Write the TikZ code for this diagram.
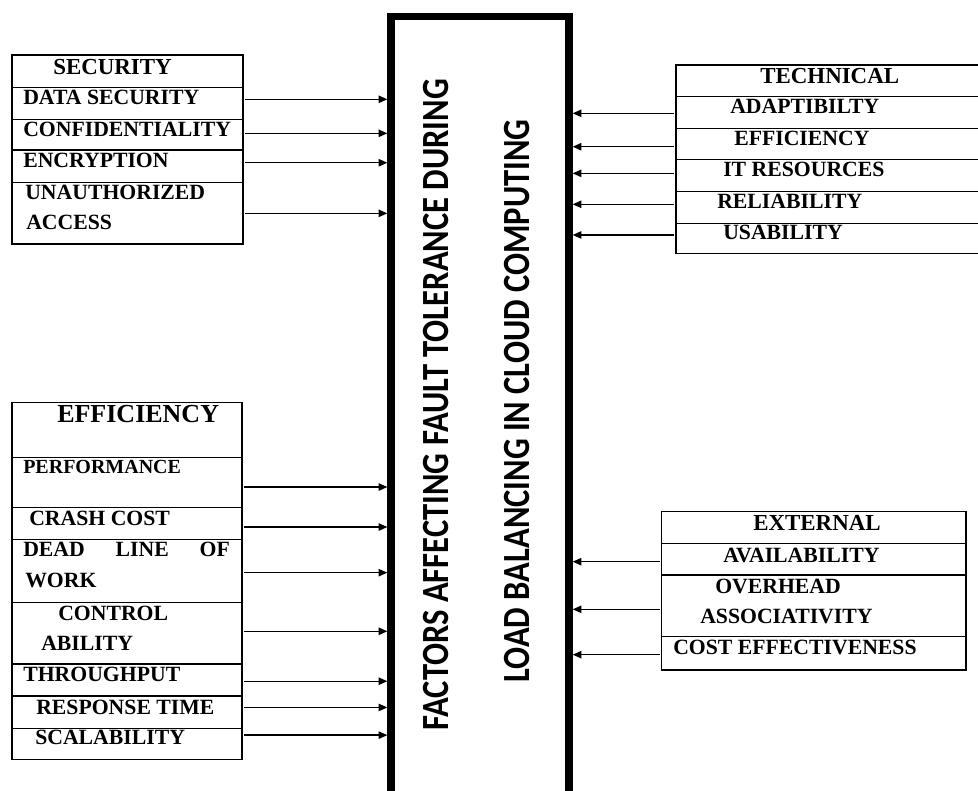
\documentclass[tikz,border=0pt]{standalone}
\usepackage{fontspec}
\setmainfont{Liberation Serif}
\newfontfamily\hubfont{Carlito}
\usetikzlibrary{arrows.meta,fit}

\begin{document}
\begin{tikzpicture}[x=0.75pt,y=-0.75pt,
  row/.style={draw, line width=1pt, inner sep=0pt, outer sep=0pt},
  item/.style={anchor=base west, inner sep=0pt, font=\bfseries\fontsize{16.3}{18}\selectfont},
  head/.style={item, font=\bfseries\fontsize{17.2}{19}\selectfont},
  vert/.style={rotate=90, font=\hubfont\bfseries\fontsize{24.45}{28}\selectfont},
  feed/.style={-{Triangle[length=6.5pt,width=5.5pt]}, line width=1pt, shorten <=1.5pt}]
\useasboundingbox (0,0) rectangle (978,791);
\clip (0,0) rectangle (978,791);
% central box
\node[draw, line width=5.5pt, minimum width=133.5pt, minimum height=610pt] (hub) at (480,423) {};
\node[vert] (title1) at (436,405) {\scalebox{1}[1.18]{FACTORS AFFECTING FAULT TOLERANCE DURING}};
\node[vert] (title2) at (517,401) {\scalebox{1}[1.18]{LOAD BALANCING IN CLOUD COMPUTING}};
% security
\foreach \n/\a/\b in {sec0/55/87.3, sec1/87.3/119.3, sec2/119.3/150, sec3/150/182.7, sec4/182.7/244}
  \node[row, fit={(12,\a) (243,\b)}] (\n) {};
\node[head] (sec0t) at (53,74.3) {SECURITY};
\foreach \n/\x/\y/\t in {sec1t/23/105/DATA SECURITY, sec2t/23/136.7/CONFIDENTIALITY, sec3t/23/168/ENCRYPTION,
    sec4t/25/199.3/UNAUTHORIZED, sec4u/26/230/ACCESS}
  \node[item] (\n) at (\x,\y) {\t};
% efficiency
\foreach \n/\a/\b in {eff0/402.3/457.7, eff1/457.7/507.3, eff2/507.3/539.3, eff3/539.3/602.3,
    eff4/602.3/664, eff5/664/696, eff6/696/728.3, eff7/728.3/759.3}
  \node[row, fit={(12,\a) (242,\b)}] (\n) {};
\node[head, font=\bfseries\fontsize{19.5}{22}\selectfont] (eff0t) at (57,422.7) {EFFICIENCY};
\node[item, font=\bfseries\fontsize{15}{17}\selectfont] (eff1t) at (23,473.3) {PERFORMANCE};
\node[item] (eff3t) at (23,556.7) {\makebox[155pt]{DEAD\hfill LINE\hfill OF}};
\foreach \n/\x/\y/\t in {eff2t/29/525/CRASH COST, eff3u/25/587.3/WORK, eff4t/58/620.7/CONTROL,
    eff4u/41/650.7/ABILITY, eff5t/23/681.7/THROUGHPUT, eff6t/36/714/RESPONSE TIME, eff7t/35/744.3/SCALABILITY}
  \node[item] (\n) at (\x,\y) {\t};
% technical
\foreach \n/\a/\b in {tec0/65/96.7, tec1/96.7/128.3, tec2/128.3/159.3, tec3/159.3/191.7,
    tec4/191.7/223.3, tec5/223.3/253.3}
  \node[row, fit={(676,\a) (990,\b)}] (\n) {};
\node[head] (tec0t) at (760,83.3) {TECHNICAL};
\foreach \n/\x/\y/\t in {tec1t/730/114/ADAPTIBILTY, tec2t/734/146/EFFICIENCY, tec3t/723/176.7/IT RESOURCES,
    tec4t/717/208.3/RELIABILITY, tec5t/723/239.3/USABILITY}
  \node[item] (\n) at (\x,\y) {\t};
% external
\foreach \n/\a/\b in {ext0/511.7/543.3, ext1/543.3/575, ext2/575/636.7, ext3/636.7/670}
  \node[row, fit={(661.7,\a) (966,\b)}] (\n) {};
\node[head] (ext0t) at (753,530) {EXTERNAL};
\foreach \n/\x/\y/\t in {ext1t/723/562.3/AVAILABILITY, ext2t/715/593.3/OVERHEAD, ext2u/700/623.3/ASSOCIATIVITY,
    ext3t/673/654/COST EFFECTIVENESS}
  \node[item] (\n) at (\x,\y) {\t};
% arrows into the central box
\foreach \n/\s in {sec1/3, sec2/1, sec3/2.7, sec4/0, eff1/-3.4, eff2/-2.8, eff3/-1.4, eff4/1.4,
    eff5/-0.9, eff6/3.5, eff7/6.5}
  \draw[feed] ([yshift=\s pt]\n.east) -- ([yshift=\s pt]\n.east -| hub.west);
\foreach \n/\s in {tec1/-0.6, tec2/-2.2, tec3/1.6, tec4/2.4, tec5/2.5, ext1/-1.9, ext2/-2.6, ext3/-1}
  \draw[feed] ([yshift=\s pt]\n.west) -- ([yshift=\s pt]\n.west -| hub.east);
\end{tikzpicture}
\end{document}
